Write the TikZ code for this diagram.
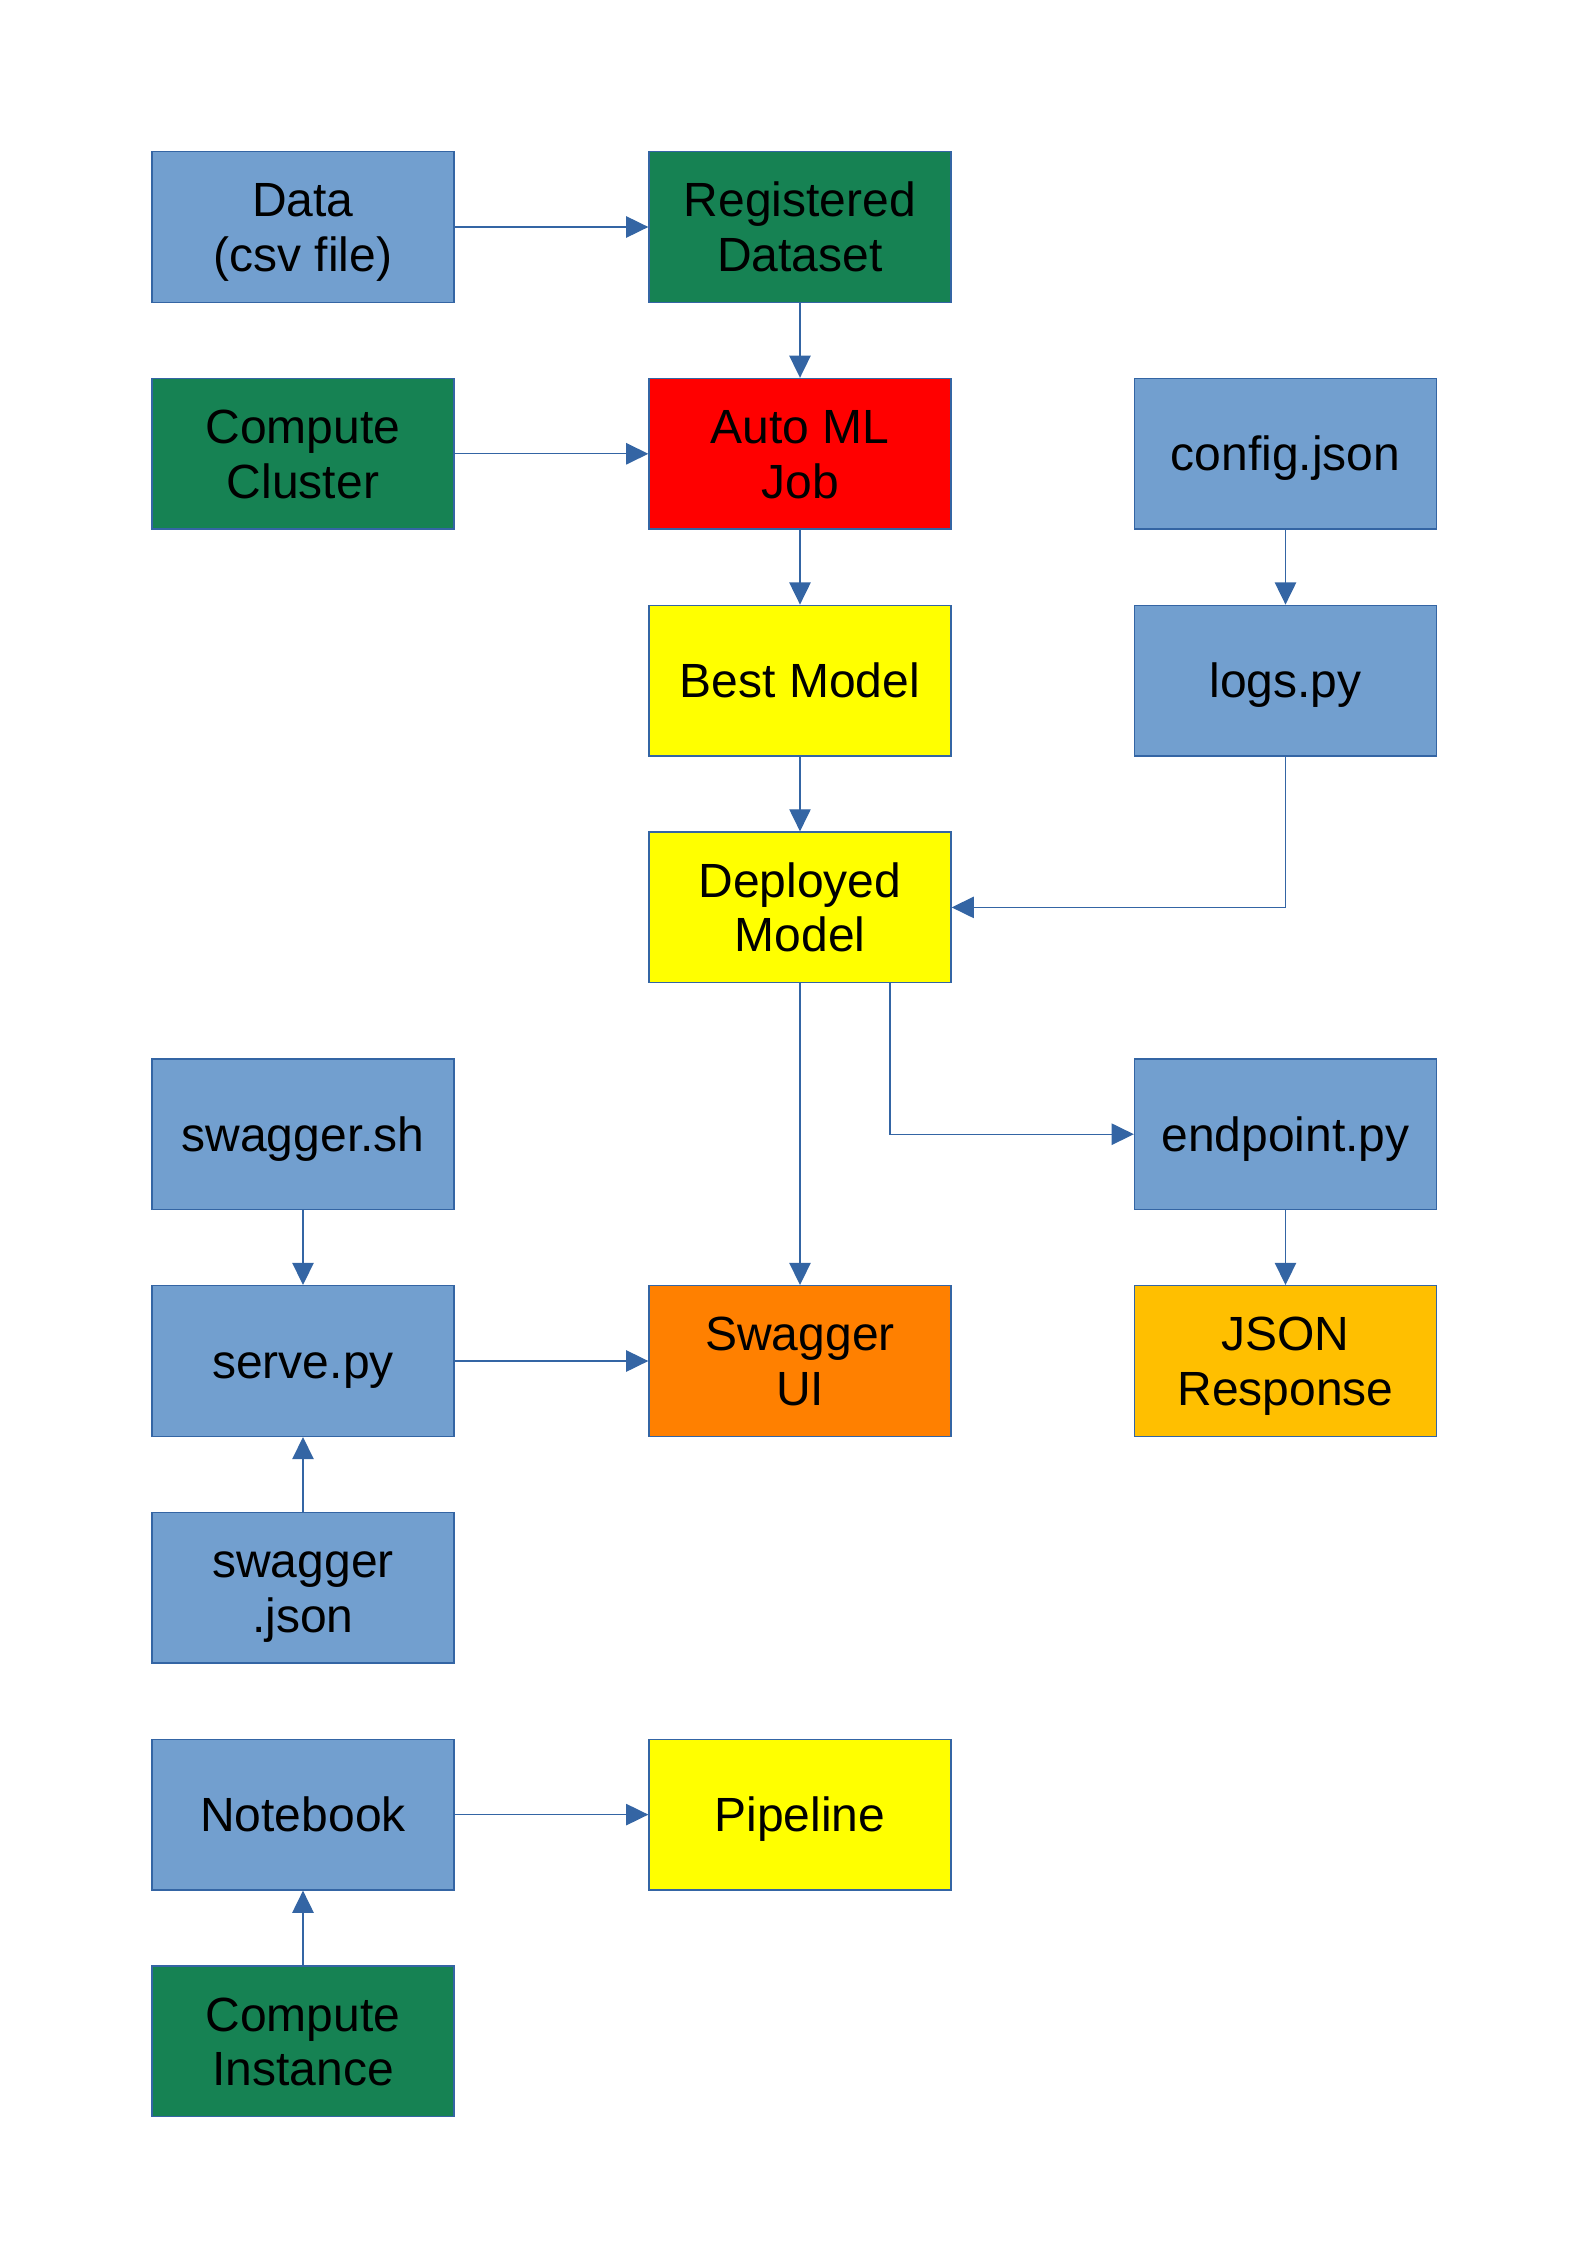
\documentclass[tikz,border=0pt]{standalone}
\usepackage{fontspec}
\setmainfont{Liberation Sans}
\usetikzlibrary{arrows.meta}
\definecolor{cblue}{HTML}{729FCF}
\definecolor{cgreen}{HTML}{168253}
\definecolor{cred}{HTML}{FF0000}
\definecolor{cyellow}{HTML}{FFFF00}
\definecolor{corange}{HTML}{FF8000}
\definecolor{cgold}{HTML}{FFBF00}
\definecolor{cline}{HTML}{3465A4}
\newcommand\boxtext[1]{\raisebox{-2.3pt}[\height][\depth]{\begin{tabular}{@{}c@{}}#1\end{tabular}}}
\tikzset{
  box/.style={draw=cline, line width=0.5pt, minimum width=113.25pt, minimum height=56.5pt,
    inner sep=0pt, font=\fontsize{18}{20.5}\selectfont, text=black},
  bluebox/.style={box, fill=cblue},
  greenbox/.style={box, fill=cgreen},
  redbox/.style={box, fill=cred},
  yellowbox/.style={box, fill=cyellow},
  orangebox/.style={box, fill=corange},
  goldbox/.style={box, fill=cgold},
  conn/.style={draw=cline, line width=0.5pt, -{Triangle[length=8.3pt,width=8pt,fill=cline]}}
}
\begin{document}
\begin{tikzpicture}[x=0.375pt,y=-0.375pt]
\useasboundingbox (0,0) rectangle (1587,2245);
\node[bluebox]   (data)  at (303,227)    {\boxtext{Data\\(csv file)}};
\node[greenbox]  (reg)   at (800,227)    {\boxtext{Registered\\Dataset}};
\node[greenbox]  (cc)    at (303,453.8)  {\boxtext{Compute\\Cluster}};
\node[redbox]    (aml)   at (800,453.8)  {\boxtext{Auto ML\\Job}};
\node[bluebox]   (cfg)   at (1285.5,453.8) {\boxtext{config.json}};
\node[yellowbox] (best)  at (800,680.6)  {\boxtext{Best Model}};
\node[bluebox]   (logs)  at (1285.5,680.6) {\boxtext{logs.py}};
\node[yellowbox] (dep)   at (800,907.4)  {\boxtext{Deployed\\Model}};
\node[bluebox]   (ssh)   at (303,1134.2) {\boxtext{swagger.sh}};
\node[bluebox]   (endp)  at (1285.5,1134.2) {\boxtext{endpoint.py}};
\node[bluebox]   (serve) at (303,1361)   {\boxtext{serve.py}};
\node[orangebox] (sui)   at (800,1361)   {\boxtext{Swagger\\UI}};
\node[goldbox]   (json)  at (1285.5,1361) {\boxtext{JSON\\Response}};
\node[bluebox]   (sjson) at (303,1587.8) {\boxtext{swagger\\.json}};
\node[bluebox]   (nb)    at (303,1814.6) {\boxtext{Notebook}};
\node[yellowbox] (pipe)  at (800,1814.6) {\boxtext{Pipeline}};
\node[greenbox]  (ci)    at (303,2041.4) {\boxtext{Compute\\Instance}};
\coordinate (depx) at (890,982.7);
\draw[conn] (data) -- (reg);
\draw[conn] (reg) -- (aml);
\draw[conn] (cc) -- (aml);
\draw[conn] (aml) -- (best);
\draw[conn] (cfg) -- (logs);
\draw[conn] (best) -- (dep);
\draw[conn] (logs.south) |- (dep.east);
\draw[conn] (dep) -- (sui);
\draw[conn] (depx) |- (endp.west);
\draw[conn] (ssh) -- (serve);
\draw[conn] (serve) -- (sui);
\draw[conn] (sjson) -- (serve);
\draw[conn] (endp) -- (json);
\draw[conn] (nb) -- (pipe);
\draw[conn] (ci) -- (nb);
\end{tikzpicture}
\end{document}
